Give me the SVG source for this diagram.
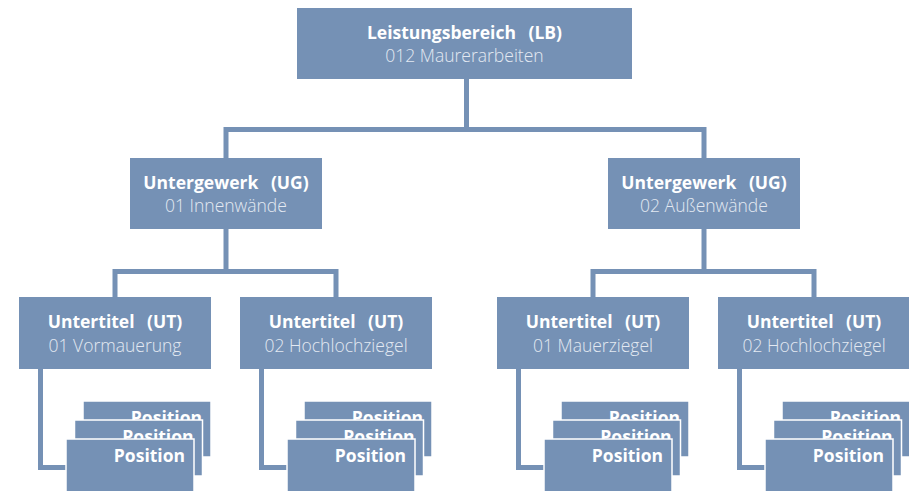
<svg xmlns="http://www.w3.org/2000/svg" width="909" height="491" viewBox="0 0 909 491">
  <style>
    .box { fill: #7591b5; }
    .pos { fill: #7591b5; stroke: #ffffff; stroke-width: 1.5; }
    .wire { fill: none; stroke: #7591b5; stroke-width: 5; stroke-linejoin: miter; stroke-linecap: butt; }
    .title { font-family: "Open Sans", "Noto Sans", "Liberation Sans", sans-serif; font-weight: 700; font-size: 17.5px; fill: #ffffff; text-anchor: middle; }
    .sub { font-family: "Open Sans", "Noto Sans", "Liberation Sans", sans-serif; font-weight: 300; font-size: 17.5px; fill: #e3e9f2; text-anchor: middle; }
    .ptxt { font-family: "Open Sans", "Noto Sans", "Liberation Sans", sans-serif; font-weight: 700; font-size: 17.5px; fill: #ffffff; text-anchor: end; }
  </style>
  <rect width="909" height="491" fill="#ffffff"/>

  <!-- connectors -->
  <g id="connectors" class="wire">
    <path d="M466.5 79 V129.5"/>
    <path d="M226 158 V129.5 H704 V158"/>
    <path d="M226 229 V271.5"/>
    <path d="M115 297 V271.5 H336 V297"/>
    <path d="M704 229 V271.5"/>
    <path d="M593 297 V271.5 H814 V297"/>
    <path d="M40.5 369 V467.5 H66"/>
    <path d="M261.5 369 V467.5 H287"/>
    <path d="M518.5 369 V467.5 H544"/>
    <path d="M739.5 369 V467.5 H765"/>
  </g>

  <!-- Leistungsbereich -->
  <g id="lb">
    <rect class="box" x="297" y="8" width="335" height="71"/>
    <text class="title" x="464.5" y="39">Leistungsbereich <tspan dx="8">(LB)</tspan></text>
    <text class="sub" x="464.5" y="62">012 Maurerarbeiten</text>
  </g>

  <!-- Untergewerke -->
  <g id="ug01">
    <rect class="box" x="130" y="158" width="192" height="71"/>
    <text class="title" x="226" y="189">Untergewerk <tspan dx="8">(UG)</tspan></text>
    <text class="sub" x="226" y="212">01 Innenwände</text>
  </g>
  <g id="ug02">
    <rect class="box" x="608" y="158" width="192" height="71"/>
    <text class="title" x="704" y="189">Untergewerk <tspan dx="8">(UG)</tspan></text>
    <text class="sub" x="704" y="212">02 Außenwände</text>
  </g>

  <!-- Untertitel -->
  <g id="ut01a">
    <rect class="box" x="19" y="297" width="192" height="72"/>
    <text class="title" x="115" y="328">Untertitel <tspan dx="8">(UT)</tspan></text>
    <text class="sub" x="115" y="352">01 Vormauerung</text>
  </g>
  <g id="ut02a">
    <rect class="box" x="240" y="297" width="192" height="72"/>
    <text class="title" x="336" y="328">Untertitel <tspan dx="8">(UT)</tspan></text>
    <text class="sub" x="336" y="352">02 Hochlochziegel</text>
  </g>
  <g id="ut01b">
    <rect class="box" x="497" y="297" width="192" height="72"/>
    <text class="title" x="593" y="328">Untertitel <tspan dx="8">(UT)</tspan></text>
    <text class="sub" x="593" y="352">01 Mauerziegel</text>
  </g>
  <g id="ut02b">
    <rect class="box" x="718" y="297" width="192" height="72"/>
    <text class="title" x="814" y="328">Untertitel <tspan dx="8">(UT)</tspan></text>
    <text class="sub" x="814" y="352">02 Hochlochziegel</text>
  </g>

  <!-- Position stacks (back to front) -->
  <g id="pos-ut01a">
    <rect class="pos" x="83" y="401" width="128" height="56"/>
    <text class="ptxt" x="202" y="424">Position</text>
    <rect class="pos" x="74.5" y="420" width="128" height="56"/>
    <text class="ptxt" x="193.5" y="443">Position</text>
    <rect class="pos" x="66" y="439" width="128" height="56"/>
    <text class="ptxt" x="185" y="462">Position</text>
  </g>
  <g id="pos-ut02a">
    <rect class="pos" x="304" y="401" width="128" height="56"/>
    <text class="ptxt" x="423" y="424">Position</text>
    <rect class="pos" x="295.5" y="420" width="128" height="56"/>
    <text class="ptxt" x="414.5" y="443">Position</text>
    <rect class="pos" x="287" y="439" width="128" height="56"/>
    <text class="ptxt" x="406" y="462">Position</text>
  </g>
  <g id="pos-ut01b">
    <rect class="pos" x="561" y="401" width="128" height="56"/>
    <text class="ptxt" x="680" y="424">Position</text>
    <rect class="pos" x="552.5" y="420" width="128" height="56"/>
    <text class="ptxt" x="671.5" y="443">Position</text>
    <rect class="pos" x="544" y="439" width="128" height="56"/>
    <text class="ptxt" x="663" y="462">Position</text>
  </g>
  <g id="pos-ut02b">
    <rect class="pos" x="782" y="401" width="128" height="56"/>
    <text class="ptxt" x="901" y="424">Position</text>
    <rect class="pos" x="773.5" y="420" width="128" height="56"/>
    <text class="ptxt" x="892.5" y="443">Position</text>
    <rect class="pos" x="765" y="439" width="128" height="56"/>
    <text class="ptxt" x="884" y="462">Position</text>
  </g>
</svg>
